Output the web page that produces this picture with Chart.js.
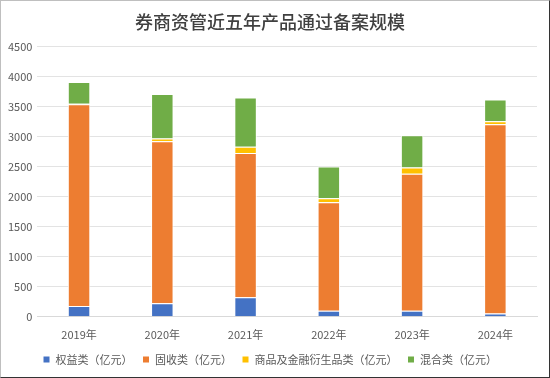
<!DOCTYPE html>
<html>
<head>
<meta charset="utf-8">
<script src="https://cdn.jsdelivr.net/npm/chart.js@4"></script>
<style>
  html, body { margin: 0; padding: 0; background: #fff; }
  #wrap { position: relative; width: 548px; height: 376px; border: 1px solid #bfbfbf; border-right-color: #333; border-bottom-color: #333; }
</style>
</head>
<body>
<div id="wrap"><canvas id="chart"></canvas></div>
<script>
// Categories and series (亿元)
const years = ['2019年', '2020年', '2021年', '2022年', '2023年', '2024年'];
const equity = [180, 225, 326, 100, 100, 57];
const fixedIncome = [3360, 2700, 2400, 1806, 2281, 3148];
const commodity = [10, 45, 107, 67, 107, 50];
const mixed = [361, 739, 821, 531, 537, 365];

const seriesNames = ['权益类（亿元）', '固收类（亿元）', '商品及金融衍生品类（亿元）', '混合类（亿元）'];
const seriesColors = ['#4472C4', '#ED7D31', '#FFC000', '#70AD47'];

const font = "'Noto Sans CJK SC', 'Noto Sans', sans-serif";

function makeSet(i, values) {
  return {
    label: seriesNames[i],
    data: values,
    backgroundColor: seriesColors[i],
    borderColor: '#ffffff',
    borderWidth: 1,
    barPercentage: 0.27,
    categoryPercentage: 1.0
  };
}

new Chart(document.getElementById('chart'), {
  type: 'bar',
  data: {
    labels: years,
    datasets: [
      makeSet(0, equity),
      makeSet(1, fixedIncome),
      makeSet(2, commodity),
      makeSet(3, mixed)
    ]
  },
  options: {
    responsive: true,
    maintainAspectRatio: false,
    animation: false,
    layout: { padding: { left: 2, right: 12, top: 4, bottom: 2 } },
    plugins: {
      title: {
        display: true,
        text: '券商资管近五年产品通过备案规模',
        color: '#404040',
        font: { family: font, size: 18, weight: '500' },
        padding: { top: 6, bottom: 14 }
      },
      legend: {
        position: 'bottom',
        labels: {
          color: '#595959',
          font: { family: font, size: 11 },
          boxWidth: 7,
          boxHeight: 7,
          padding: 10
        }
      },
      tooltip: { enabled: false }
    },
    scales: {
      x: {
        stacked: true,
        grid: { display: false },
        border: { color: '#d9d9d9' },
        ticks: { color: '#595959', font: { family: font, size: 11 } }
      },
      y: {
        stacked: true,
        min: 0,
        max: 4500,
        ticks: {
          stepSize: 500,
          color: '#595959',
          font: { family: font, size: 11 },
          padding: 5,
          callback: function(value) { return String(value); }
        },
        grid: { color: '#e3e3e3', drawTicks: false },
        border: { display: false }
      }
    }
  }
});
</script>
</body>
</html>
